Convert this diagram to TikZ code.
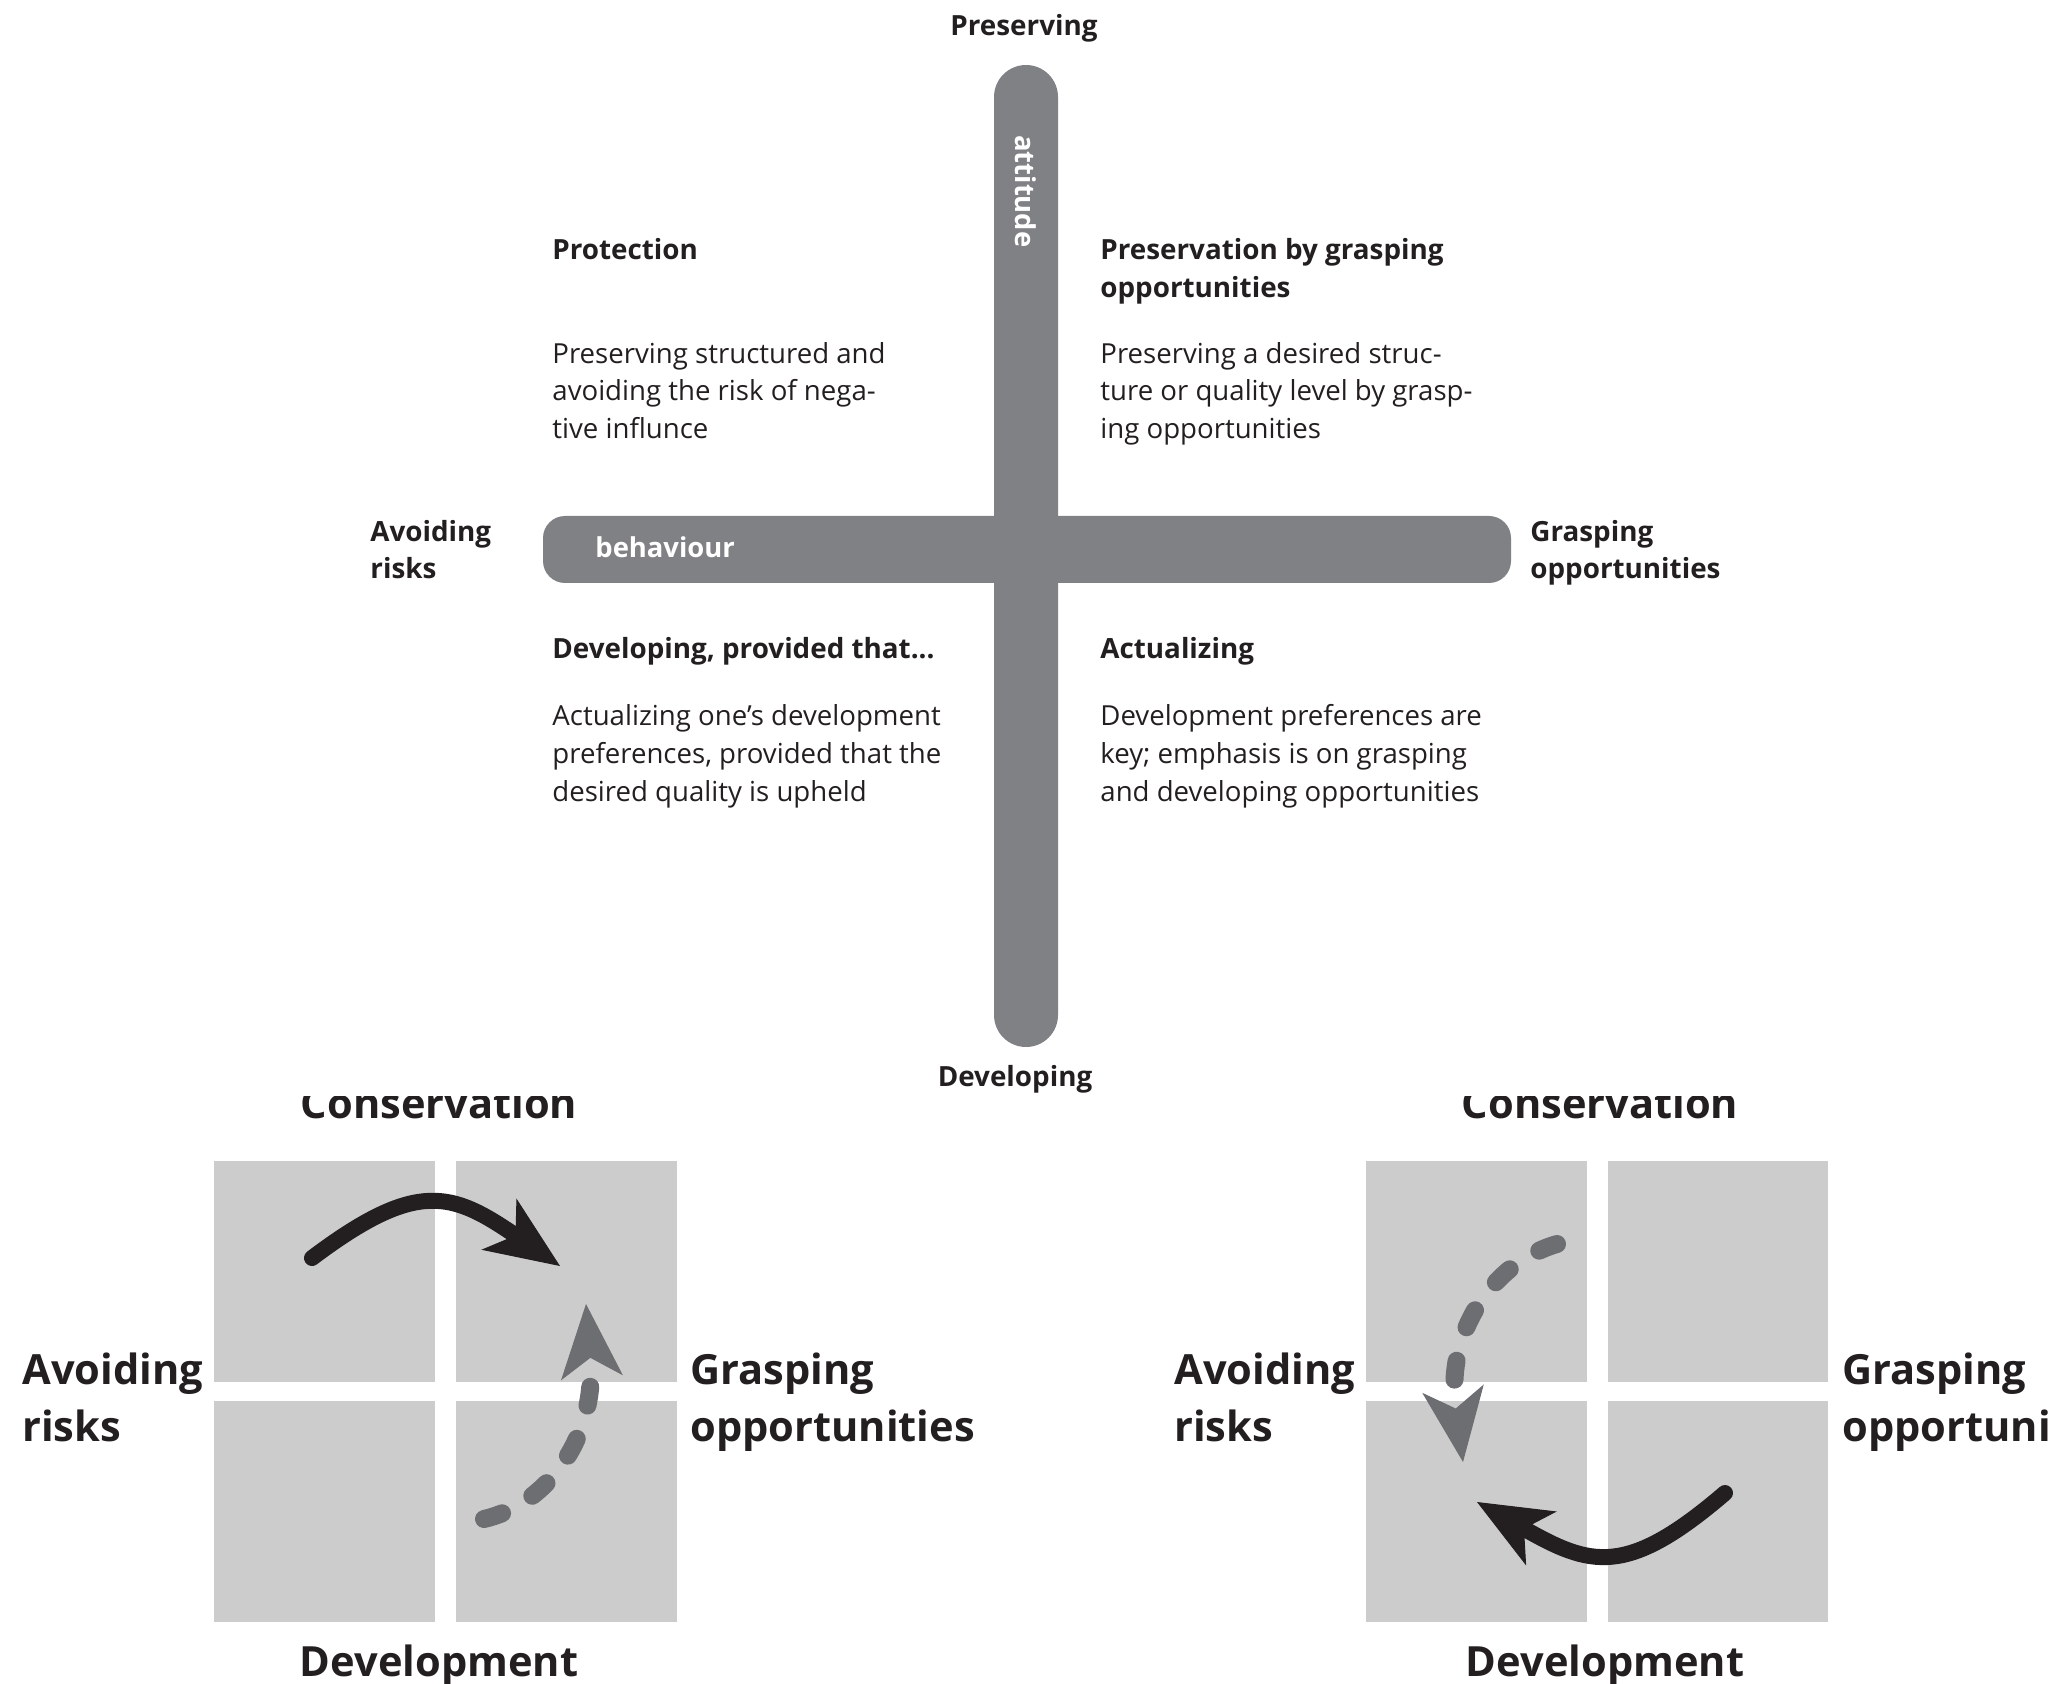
\documentclass[tikz,border=0pt]{standalone}
\usepackage{fontspec}
\setmainfont{Open Sans}
\usetikzlibrary{arrows.meta}
\definecolor{barc}{RGB}{128,129,133}
\definecolor{sqc}{RGB}{204,204,204}
\definecolor{dashc}{RGB}{109,110,113}
\definecolor{ink}{RGB}{35,31,32}
\begin{document}
\begin{tikzpicture}[x=0.5pt,y=-0.5pt,
  hd/.style={font=\fontsize{13.9}{16}\selectfont\bfseries, text=ink, inner sep=0pt, anchor=base west},
  bd/.style={font=\fontsize{13.8}{16}\selectfont, text=ink, inner sep=0pt, anchor=base west},
  bl/.style={font=\fontsize{13.7}{17}\selectfont\bfseries, text=white, inner sep=0pt},
  big/.style={font=\fontsize{20.8}{28}\selectfont\bfseries, text=ink, inner sep=0pt, anchor=base west},
  sq/.style={fill=sqc},
  headtip/.style={-{Stealth[length=37pt,width=31pt,inset=10pt,line width=0.5pt]}},
  solidarr/.style={draw=ink, line width=8pt, line cap=round, headtip},
  dasharr/.style={draw=dashc, line width=9pt, line cap=round, dash pattern=on 9.5pt off 17.5pt, headtip}
]
\useasboundingbox (0,0) rectangle (2050,1684);

% ---------- top diagram ----------
\fill[barc, rounded corners=11pt] (543,516) rectangle (1511,583);
\fill[barc, rounded corners=16pt] (994,65) rectangle (1058,1047);

\node[bl, anchor=base west] (beh) at (595,558) {behaviour};
\node[bl, rotate=-90, anchor=west] (att) at (1026,135) {attitude};

\node[hd, anchor=base] (pres) at (1024,36) {Preserving};
\node[hd, anchor=base] (dev) at (1015,1086) {Developing};
\node[hd] (ar1) at (370,542) {Avoiding};
\node[hd] (ar2) at (370,579) {risks};
\node[hd] (go1) at (1530,542) {Grasping};
\node[hd] (go2) at (1530,579) {opportunities};

\node[hd] (q1h) at (552,260) {Protection};
\node[bd] (q1a) at (552,364) {Preserving structured and};
\node[bd] (q1b) at (552,401) {avoiding the risk of nega-};
\node[bd] (q1c) at (552,439) {tive influnce};

\node[hd] (q2h) at (1100,260) {Preservation by grasping};
\node[hd] (q2i) at (1100,298) {opportunities};
\node[bd] (q2a) at (1100,364) {Preserving a desired struc-};
\node[bd] (q2b) at (1100,401) {ture or quality level by grasp-};
\node[bd] (q2c) at (1100,439) {ing opportunities};

\node[hd] (q3h) at (552,658) {Developing, provided that...};
\node[bd] (q3a) at (552,725) {Actualizing one’s development};
\node[bd] (q3b) at (552,763) {preferences, provided that the};
\node[bd] (q3c) at (552,801) {desired quality is upheld};

\node[hd] (q4h) at (1100,658) {Actualizing};
\node[bd] (q4a) at (1100,725) {Development preferences are};
\node[bd] (q4b) at (1100,763) {key; emphasis is on grasping};
\node[bd] (q4c) at (1100,801) {and developing opportunities};

% ---------- bottom left ----------
\begin{scope}
\clip (0,1096) rectangle (2050,1684);
\node[big, anchor=base] (lcons) at (439,1118) {Conservation};
\node[big, anchor=base] (rcons) at (1600,1118) {Conservation};
\end{scope}

\fill[sq] (214,1161) rectangle (435,1382);
\fill[sq] (456,1161) rectangle (677,1382);
\fill[sq] (214,1401) rectangle (435,1622);
\fill[sq] (456,1401) rectangle (677,1622);

\node[big, anchor=base] (ldev) at (439,1676) {Development};
\node[big] (lav1) at (22,1384) {Avoiding};
\node[big] (lav2) at (22,1441) {risks};
\node[big] (lgr1) at (690,1384) {Grasping};
\node[big] (lgr2) at (690,1441) {opportunities};

\coordinate (lbS) at (312,1258);
\coordinate (lbE) at (560,1266);
\coordinate (lgS) at (484,1519);
\coordinate (lgE) at (586,1304);
\draw[solidarr] (lbS) .. controls (417,1179) and (452,1192) .. (lbE);
\draw[dasharr] (lgS) .. controls (545,1505) and (597,1440) .. (lgE);

% ---------- bottom right ----------
\fill[sq] (1366,1161) rectangle (1587,1382);
\fill[sq] (1608,1161) rectangle (1828,1382);
\fill[sq] (1366,1401) rectangle (1587,1622);
\fill[sq] (1608,1401) rectangle (1828,1622);

\node[big, anchor=base] (rdev) at (1605,1676) {Development};
\node[big] (rav1) at (1174,1384) {Avoiding};
\node[big] (rav2) at (1174,1441) {risks};
\node[big] (rgr1) at (1842,1384) {Grasping};
\node[big] (rgr2) at (1842,1441) {opportunities};

\coordinate (rgS) at (1557,1244);
\coordinate (rgE) at (1463,1462);
\coordinate (rbS) at (1725,1493);
\coordinate (rbE) at (1477,1502);
\draw[dasharr] (rgS) .. controls (1495,1262) and (1445,1330) .. (rgE);
\draw[solidarr] (rbS) .. controls (1626,1578) and (1590,1566) .. (rbE);
\end{tikzpicture}
\end{document}
